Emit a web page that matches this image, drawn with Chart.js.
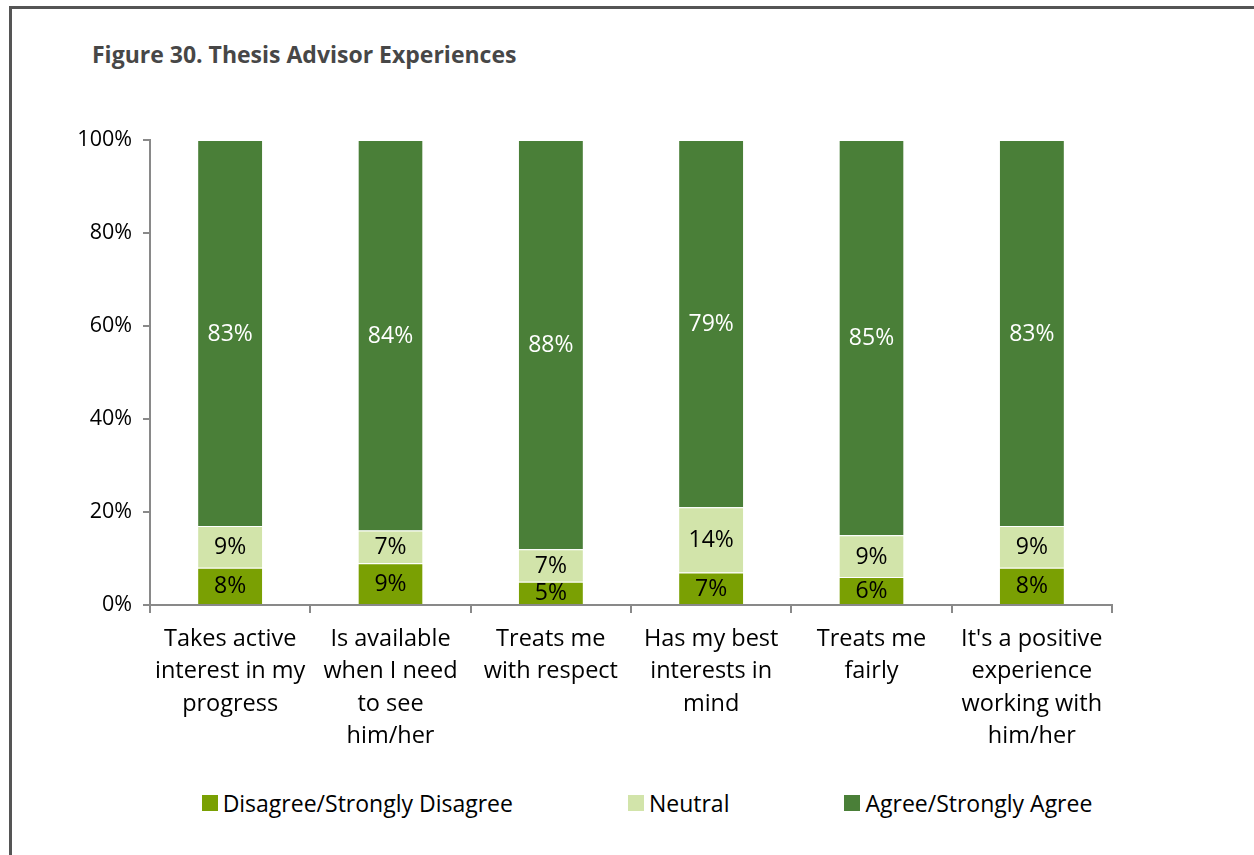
<!DOCTYPE html>
<html>
<head>
<meta charset="utf-8">
<title>Thesis Advisor Experiences</title>
<script src="https://cdn.jsdelivr.net/npm/chart.js@4.4.1/dist/chart.umd.min.js"></script>
<style>
  body { margin: 0; background: #fff; font-family: 'Open Sans', sans-serif; }
  #frame {
    position: absolute; left: 9px; top: 6px; width: 1300px; height: 900px;
    border: 3px solid #555; box-sizing: border-box;
  }
  #title {
    position: absolute; left: 92px; top: 38px;
    font-weight: bold; font-size: 23px; color: #474747;
  }
  #chartWrap { position: absolute; left: 0; top: 0; }
  #legend {
    position: absolute; left: 20px; top: 787px; width: 1254px;
    display: flex; justify-content: center; gap: 115px;
    font-size: 23px; color: #000;
  }
  .legend-item { display: flex; align-items: center; }
  .legend-box { width: 16px; height: 16px; margin-right: 5px; }
</style>
</head>
<body>
<div id="frame"></div>
<div id="title">Figure 30. Thesis Advisor Experiences</div>
<div id="chartWrap"><canvas id="advisorChart" width="1254" height="760"></canvas></div>
<div id="legend"></div>

<script>
const categories = [
    ['Takes active', 'interest in my', 'progress'],
    ['Is available', 'when I need', 'to see', 'him/her'],
    ['Treats me', 'with respect'],
    ['Has my best', 'interests in', 'mind'],
    ['Treats me', 'fairly'],
    ["It's a positive", 'experience', 'working with', 'him/her']
];
const disagree = [8, 9, 5, 7, 6, 8];
const neutral = [9, 7, 7, 14, 9, 9];
const agree = [83, 84, 88, 79, 85, 83];
const yTicks = [0, 20, 40, 60, 80, 100];

const seriesNames = ['Disagree/Strongly Disagree', 'Neutral', 'Agree/Strongly Agree'];
const seriesColors = ['#7aa003', '#d2e4aa', '#4a7f38'];
const labelColors = ['#000', '#000', '#fff'];

// percentage text in the middle of every stacked segment
const segmentLabels = {
    id: 'segmentLabels',
    afterDatasetsDraw(chart) {
        const ctx = chart.ctx;
        ctx.save();
        ctx.font = '23px "Open Sans"';
        ctx.textAlign = 'center';
        ctx.textBaseline = 'middle';
        chart.data.datasets.forEach((ds, i) => {
            chart.getDatasetMeta(i).data.forEach((bar, j) => {
                const c = bar.getCenterPoint();
                ctx.fillStyle = labelColors[i];
                ctx.fillText(ds.data[j] + '%', c.x, c.y + 1);
            });
        });
        ctx.restore();
    }
};

const axisColor = '#898989';

const chart = new Chart(document.getElementById('advisorChart'), {
    type: 'bar',
    data: {
        labels: categories,
        datasets: [disagree, neutral, agree].map((values, i) => ({
            label: seriesNames[i],
            data: values,
            backgroundColor: seriesColors[i],
            borderColor: 'rgba(255,255,255,0.8)',
            borderWidth: { top: 1 },
            borderSkipped: false,
            categoryPercentage: 1,
            barPercentage: 0.4
        }))
    },
    options: {
        responsive: false,
        animation: false,
        layout: { padding: { top: 140, right: 142, left: 0, bottom: 0 } },
        plugins: {
            legend: { display: false },
            tooltip: { enabled: false }
        },
        scales: {
            x: {
                stacked: true,
                grid: { drawOnChartArea: false, offset: true, tickLength: 8, color: axisColor, lineWidth: 2 },
                border: { color: axisColor, width: 2 },
                ticks: {
                    color: '#000',
                    font: { family: 'Open Sans', size: 23.5, lineHeight: '32.5px' },
                    padding: 10,
                    maxRotation: 0,
                    autoSkip: false
                },
                afterFit(scale) { scale.height = 155; }
            },
            y: {
                stacked: true,
                min: 0,
                max: 100,
                afterBuildTicks(scale) { scale.ticks = yTicks.map(v => ({ value: v })); },
                grid: { drawOnChartArea: false, tickLength: 7, color: axisColor, lineWidth: 2 },
                border: { color: axisColor, width: 2 },
                ticks: { callback: v => v + '%', color: '#000', font: { family: 'Open Sans', size: 21.5 }, padding: 11 },
                afterFit(scale) { scale.width = 150; }
            }
        }
    },
    plugins: [segmentLabels]
});

// legend built from the same series arrays
const legend = document.getElementById('legend');
seriesNames.forEach((name, i) => {
    const item = document.createElement('div');
    item.className = 'legend-item';
    item.innerHTML = `<span class="legend-box" style="background:${seriesColors[i]}"></span><span>${name}</span>`;
    legend.appendChild(item);
});
</script>
</body>
</html>
